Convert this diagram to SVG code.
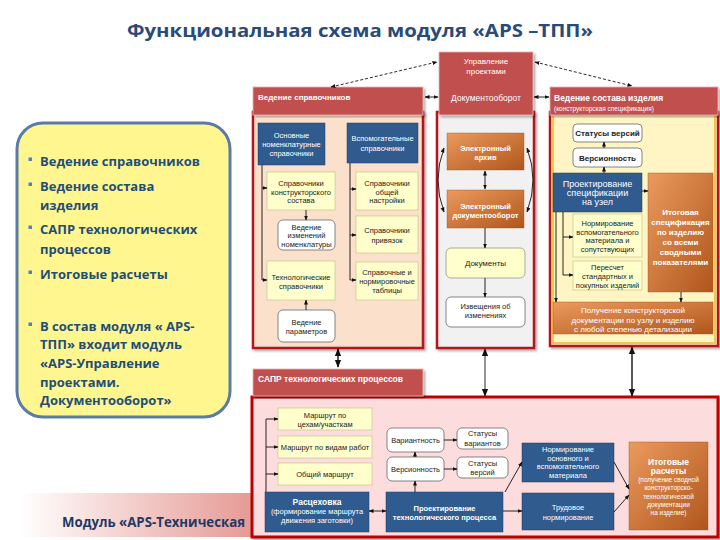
<svg xmlns="http://www.w3.org/2000/svg" width="720" height="540" viewBox="0 0 720 540">
<style>
.t{font-family:"Liberation Sans",Arial,sans-serif;font-size:7.5px;fill:#222;text-anchor:middle}
.w{fill:#fff}
.b{font-weight:bold}
.hdr{fill:#c0504d;stroke:#e8b4b2;stroke-width:0.8}
.blue{fill:#2f5b8e;stroke:#1f3f66;stroke-width:0.5}
.yel{fill:#ffffcc;stroke:#c9c28a;stroke-width:0.7}
.wht{fill:#fff;stroke:#555;stroke-width:0.7}
.org{fill:url(#og);stroke:#a0521c;stroke-width:0.4}
.pan{stroke:#b3161b;stroke-width:2.5}
.c{fill:none;stroke:#111;stroke-width:0.9}
.big{fill:none;stroke:#111;stroke-width:1.4}
.cl{font-family:"Open Sans","Noto Sans",sans-serif;font-weight:bold;font-size:13px;fill:#1f4e79}
</style>
<defs>
<linearGradient id="og" x1="0" y1="0" x2="1" y2="1">
<stop offset="0" stop-color="#eb9a5e"/>
<stop offset="1" stop-color="#b0561c"/>
</linearGradient>
<linearGradient id="band" x1="0" y1="0" x2="1" y2="0">
<stop offset="0.08" stop-color="#ffffff"/>
<stop offset="1" stop-color="#e69a94"/>
</linearGradient>
<marker id="ah" viewBox="0 0 10 10" refX="9" refY="5" markerWidth="5" markerHeight="5" markerUnits="userSpaceOnUse" orient="auto-start-reverse">
<path d="M0,1 L10,5 L0,9 z" fill="#111"/>
</marker>
<marker id="ahb" viewBox="0 0 10 10" refX="9" refY="5" markerWidth="8" markerHeight="8" markerUnits="userSpaceOnUse" orient="auto-start-reverse">
<path d="M0,1 L10,5 L0,9 z" fill="#111"/>
</marker>
<filter id="sh" x="-5%" y="-5%" width="115%" height="115%">
<feDropShadow dx="2" dy="2" stdDeviation="1.2" flood-color="#000" flood-opacity="0.3"/>
</filter>
</defs>

<rect width="720" height="540" fill="#fff"/>

<g id="title">
<text x="360" y="37" text-anchor="middle" font-family="Open Sans, Noto Sans, sans-serif" font-weight="bold" font-size="18" fill="#2a4a7a" textLength="466" lengthAdjust="spacingAndGlyphs">Функциональная схема модуля «APS –ТПП»</text>
</g>

<g id="callout">
<rect x="17" y="123" width="213" height="294" rx="26" fill="#fff68f" stroke="#5a7aa8" stroke-width="3"/>
<g fill="#4f81bd">
<rect x="28.5" y="157.5" width="3.5" height="3.5"/>
<rect x="28.5" y="182.5" width="3.5" height="3.5"/>
<rect x="28.5" y="225.5" width="3.5" height="3.5"/>
<rect x="28.5" y="270.5" width="3.5" height="3.5"/>
<rect x="28.5" y="322.5" width="3.5" height="3.5"/>
</g>
<text class="cl" x="40" y="166">Ведение справочников</text>
<text class="cl" x="40" y="191">Ведение состава</text>
<text class="cl" x="40" y="210">изделия</text>
<text class="cl" x="40" y="234">САПР технологических</text>
<text class="cl" x="40" y="254">процессов</text>
<text class="cl" x="40" y="279">Итоговые расчеты</text>
<text class="cl" x="40" y="331">В состав модуля « APS-</text>
<text class="cl" x="40" y="349">ТПП» входит модуль</text>
<text class="cl" x="40" y="368">«APS-Управление</text>
<text class="cl" x="40" y="387">проектами.</text>
<text class="cl" x="40" y="405">Документооборот»</text>
</g>

<g id="band">
<rect x="0" y="493" width="252" height="44" fill="url(#band)"/>
<text x="245" y="527" text-anchor="end" font-family="Open Sans, Noto Sans, sans-serif" font-weight="bold" font-size="14" fill="#1f3864" textLength="183" lengthAdjust="spacingAndGlyphs">Модуль «APS-Техническая</text>
</g>

<!-- panels -->
<g id="panel-left">
<rect class="pan" x="253" y="112" width="170" height="236" fill="#fbe0cc" filter="url(#sh)"/>
<rect class="hdr" x="253" y="87" width="170" height="28" filter="url(#sh)"/>
<text class="t w b" x="258" y="100" style="text-anchor:start;font-size:8px">Ведение справочников</text>
</g>
<g id="panel-mid">
<rect class="pan" x="437" y="112" width="97" height="236" fill="#f1f1f1" filter="url(#sh)"/>
</g>
<g id="top-box">
<rect class="hdr" x="439" y="52" width="94" height="63" filter="url(#sh)"/>
<text class="t w" x="486" y="64" style="font-size:8px">Управление</text>
<text class="t w" x="486" y="74" style="font-size:8px">проектами</text>
<text class="t w" x="486" y="101" style="font-size:8.5px">Документооборот</text>
</g>
<g id="panel-right">
<rect class="pan" x="550" y="112" width="168" height="234" fill="#fff4c4" filter="url(#sh)"/>
<rect x="553" y="115" width="162" height="228" fill="none" stroke="#f2c84b" stroke-width="2"/>
<rect class="hdr" x="550" y="87" width="168" height="28" filter="url(#sh)"/>
<text class="t w b" x="554" y="101" style="text-anchor:start;font-size:8.5px">Ведение состава изделия</text>
<text class="t w" x="554" y="111" style="text-anchor:start;font-size:6.5px">(конструкторская спецификация)</text>
</g>
<g id="panel-bottom">
<rect x="252" y="397" width="466" height="140" fill="#fcdcdc" stroke="#c00000" stroke-width="3" filter="url(#sh)"/>
<rect class="hdr" x="253" y="369" width="170" height="27" filter="url(#sh)"/>
<text class="t w b" x="258" y="382" style="text-anchor:start;font-size:8.5px">САПР технологических процессов</text>
</g>

<!-- left panel nodes -->
<g id="n-osn"><rect class="blue" x="258" y="123" width="67" height="42"/>
<text class="t w" x="291.5" y="138">Основные</text><text class="t w" x="291.5" y="147">номенклатурные</text><text class="t w" x="291.5" y="156">справочники</text></g>
<g id="n-vsp"><rect class="blue" x="347" y="123" width="71" height="40"/>
<text class="t w" x="382.5" y="141">Вспомогательные</text><text class="t w" x="382.5" y="151">справочники</text></g>
<g id="n-konstr"><rect class="yel" x="267" y="172" width="68" height="38"/>
<text class="t" x="301" y="186">Справочники</text><text class="t" x="301" y="194.5">конструкторского</text><text class="t" x="301" y="203">состава</text></g>
<g id="n-obsh"><rect class="yel" x="356" y="172" width="62" height="38"/>
<text class="t" x="387" y="186">Справочники</text><text class="t" x="387" y="194.5">общей</text><text class="t" x="387" y="203">настройки</text></g>
<g id="n-izm"><rect class="wht" x="278" y="220" width="57" height="30" rx="5"/>
<text class="t" x="306.5" y="229.5">Ведение</text><text class="t" x="306.5" y="238">изменений</text><text class="t" x="306.5" y="246.5">номенклатуры</text></g>
<g id="n-priv"><rect class="yel" x="356" y="216" width="62" height="37"/>
<text class="t" x="387" y="233">Справочники</text><text class="t" x="387" y="243">привязок</text></g>
<g id="n-tehn"><rect class="yel" x="267" y="261" width="68" height="39"/>
<text class="t" x="301" y="280">Технологические</text><text class="t" x="301" y="289">справочники</text></g>
<g id="n-tabl"><rect class="yel" x="356" y="262" width="62" height="38"/>
<text class="t" x="387" y="275">Справочные и</text><text class="t" x="387" y="284">нормировочные</text><text class="t" x="387" y="293">таблицы</text></g>
<g id="n-param"><rect class="wht" x="278" y="310" width="57" height="32" rx="5"/>
<text class="t" x="306.5" y="325">Ведение</text><text class="t" x="306.5" y="334">параметров</text></g>

<!-- middle nodes -->
<g id="n-arh"><rect class="org" x="447" y="133" width="77" height="37"/>
<text class="t w b" x="485.5" y="151">Электронный</text><text class="t w b" x="485.5" y="160">архив</text></g>
<g id="n-edo"><rect class="org" x="447" y="190" width="77" height="38"/>
<text class="t w b" x="485.5" y="209">Электронный</text><text class="t w b" x="485.5" y="218">документооборот</text></g>
<g id="n-doc"><rect class="yel" x="446" y="248" width="79" height="30" rx="5" style="stroke:#888"/>
<text class="t" x="485.5" y="266" style="font-size:8px">Документы</text></g>
<g id="n-izv"><rect class="wht" x="446" y="297" width="79" height="30" rx="5"/>
<text class="t" x="485.5" y="309">Извещения об</text><text class="t" x="485.5" y="318">изменениях</text></g>

<!-- right nodes -->
<g id="n-stv"><rect class="wht" x="573" y="124" width="69" height="18" rx="4"/>
<text class="t b" x="607.5" y="136" style="font-size:8px">Статусы версий</text></g>
<g id="n-ver"><rect class="wht" x="573" y="148" width="69" height="19" rx="4"/>
<text class="t b" x="607.5" y="160.5" style="font-size:8px">Версионность</text></g>
<g id="n-proekt"><rect class="blue" x="553" y="173" width="89" height="39"/>
<text class="t w" x="597.5" y="187" style="font-size:9px">Проектирование</text><text class="t w" x="597.5" y="196" style="font-size:9px">спецификации</text><text class="t w" x="597.5" y="205" style="font-size:9px">на узел</text></g>
<g id="n-itogspec"><rect class="org" x="648" y="173" width="65" height="119"/>
<text class="t w b" x="680.5" y="215" style="font-size:8px">Итоговая</text><text class="t w b" x="680.5" y="225" style="font-size:8px">спецификация</text><text class="t w b" x="680.5" y="235" style="font-size:8px">по изделию</text><text class="t w b" x="680.5" y="245" style="font-size:8px">со всеми</text><text class="t w b" x="680.5" y="255" style="font-size:8px">сводными</text><text class="t w b" x="680.5" y="265" style="font-size:8px">показателями</text></g>
<g id="n-norm"><rect class="yel" x="573" y="214" width="69" height="43"/>
<text class="t" x="607.5" y="226">Нормирование</text><text class="t" x="607.5" y="234.5">вспомогательного</text><text class="t" x="607.5" y="243">материала и</text><text class="t" x="607.5" y="252">сопутствующих</text></g>
<g id="n-peresch"><rect class="yel" x="573" y="261" width="69" height="29"/>
<text class="t" x="607.5" y="270">Пересчет</text><text class="t" x="607.5" y="279">стандартных и</text><text class="t" x="607.5" y="288">покупных изделий</text></g>
<g id="n-poluch"><rect class="org" x="553" y="302" width="160" height="32"/>
<text class="t w" x="633" y="313" style="font-size:8px">Получение конструкторской</text><text class="t w" x="633" y="322.5" style="font-size:8px">документации по узлу и изделию</text><text class="t w" x="633" y="332" style="font-size:8px">с любой степенью детализации</text></g>

<!-- bottom nodes -->
<g id="n-m1"><rect class="yel" x="278" y="408" width="94" height="22"/>
<text class="t" x="325" y="418">Маршрут по</text><text class="t" x="325" y="427">цехам/участкам</text></g>
<g id="n-m2"><rect class="yel" x="278" y="436" width="94" height="22"/>
<text class="t" x="325" y="450">Маршрут по видам работ</text></g>
<g id="n-m3"><rect class="yel" x="278" y="463" width="94" height="22"/>
<text class="t" x="325" y="477">Общий маршрут</text></g>
<g id="n-rasc"><rect class="blue" x="265" y="492" width="104" height="40"/>
<text class="t w b" x="317" y="505" style="font-size:8.5px">Расцеховка</text><text class="t w" x="317" y="514">(формирование маршрута</text><text class="t w" x="317" y="523">движения заготовки)</text></g>
<g id="n-var"><rect class="wht" x="387" y="428" width="57" height="24" rx="5"/>
<text class="t" x="415.5" y="443">Вариантность</text></g>
<g id="n-ver2"><rect class="wht" x="387" y="457" width="57" height="24" rx="5"/>
<text class="t" x="415.5" y="472">Версионность</text></g>
<g id="n-stvar"><rect class="wht" x="457" y="428" width="51" height="21" rx="5"/>
<text class="t" x="482.5" y="436">Статусы</text><text class="t" x="482.5" y="446">вариантов</text></g>
<g id="n-stver"><rect class="wht" x="457" y="457" width="51" height="21" rx="5"/>
<text class="t" x="482.5" y="466">Статусы</text><text class="t" x="482.5" y="475">версий</text></g>
<g id="n-ptp"><rect class="blue" x="386" y="492" width="117" height="40"/>
<text class="t w b" x="444.5" y="511">Проектирование</text><text class="t w b" x="444.5" y="520">технологического процесса</text></g>
<g id="n-normm"><rect class="blue" x="522" y="443" width="92" height="39"/>
<text class="t w" x="568" y="452">Нормирование</text><text class="t w" x="568" y="460.5">основного и</text><text class="t w" x="568" y="469">вспомогательного</text><text class="t w" x="568" y="477.5">материала</text></g>
<g id="n-trud"><rect class="blue" x="522" y="493" width="92" height="37"/>
<text class="t w" x="568" y="510">Трудовое</text><text class="t w" x="568" y="520">нормирование</text></g>
<g id="n-itog"><rect class="org" x="629" y="442" width="79" height="88"/>
<text class="t w b" x="668.5" y="465" style="font-size:8.5px">Итоговые</text><text class="t w b" x="668.5" y="474" style="font-size:8.5px">расчеты</text><text class="t w" x="668.5" y="482" style="font-size:6.5px">(получение сводной</text><text class="t w" x="668.5" y="490" style="font-size:6.5px">конструкторско-</text><text class="t w" x="668.5" y="499" style="font-size:6.5px">технологической</text><text class="t w" x="668.5" y="507" style="font-size:6.5px">документации</text><text class="t w" x="668.5" y="515" style="font-size:6.5px">на изделие)</text></g>

<g id="connectors">
<path class="c" d="M331,87 L437,62" stroke-dasharray="3,2" marker-start="url(#ah)" marker-end="url(#ah)"/>
<path class="c" d="M535,62 L632,86" stroke-dasharray="3,2" marker-start="url(#ah)" marker-end="url(#ah)"/>
<path class="c" d="M425,97 H438" marker-start="url(#ah)" marker-end="url(#ah)"/>
<path class="c" d="M534,97 H549" marker-start="url(#ah)" marker-end="url(#ah)"/>

<path class="c" d="M262,165 V280"/>
<path class="c" d="M262,188 H267" marker-end="url(#ah)"/>
<path class="c" d="M262,280 H267" marker-end="url(#ah)"/>
<path class="c" d="M350,163 V280"/>
<path class="c" d="M350,189 H356" marker-end="url(#ah)"/>
<path class="c" d="M350,235 H356" marker-end="url(#ah)"/>
<path class="c" d="M350,280 H356" marker-end="url(#ah)"/>
<path class="c" d="M306,210 V220" marker-end="url(#ah)"/>
<path class="c" d="M306,310 V300" marker-end="url(#ah)"/>

<path class="c" d="M485,171 V189" marker-start="url(#ah)" marker-end="url(#ah)"/>
<path class="c" d="M444,148 Q432,180 444,212" marker-start="url(#ah)" marker-end="url(#ah)"/>
<path class="c" d="M527,148 Q539,180 527,212" marker-start="url(#ah)" marker-end="url(#ah)"/>
<path class="c" d="M485,228 V248" marker-end="url(#ah)"/>
<path class="c" d="M485,278 V297" marker-end="url(#ah)"/>

<path class="c" d="M604,148 V142" marker-end="url(#ah)"/>
<path class="c" d="M604,173 V167" marker-end="url(#ah)"/>
<path class="c" d="M642,191 H648" marker-end="url(#ah)"/>
<path class="c" d="M556,212 V302" marker-end="url(#ah)"/>
<path class="c" d="M563,212 V275"/>
<path class="c" d="M563,237 H573" marker-end="url(#ah)"/>
<path class="c" d="M563,275 H573" marker-end="url(#ah)"/>
<path class="c" d="M681,292 V302" marker-end="url(#ah)"/>

<path class="big" d="M338,349 V367" marker-start="url(#ahb)" marker-end="url(#ahb)"/>
<path class="c" d="M485,349 V396" marker-start="url(#ahb)" marker-end="url(#ahb)"/>
<path class="big" d="M632,347 V396" marker-start="url(#ahb)" marker-end="url(#ahb)"/>

<path class="c" d="M266,492 V419 H278" marker-end="url(#ah)"/>
<path class="c" d="M266,447 H278" marker-end="url(#ah)"/>
<path class="c" d="M266,474 H278" marker-end="url(#ah)"/>
<path class="c" d="M369,511 H386" marker-start="url(#ah)" marker-end="url(#ah)"/>
<path class="c" d="M415,492 V481" marker-end="url(#ah)"/>
<path class="c" d="M415,457 V452" marker-end="url(#ah)"/>
<path class="c" d="M444,440 H457" marker-end="url(#ah)"/>
<path class="c" d="M444,469 H457" marker-end="url(#ah)"/>
<path class="c" d="M503,511 H522" marker-end="url(#ah)"/>
<path class="c" d="M505,492 L522,462" marker-end="url(#ah)"/>
<path class="c" d="M614,462 L629,489" marker-end="url(#ah)"/>
<path class="c" d="M614,512 L629,495" marker-end="url(#ah)"/>
</g>
</svg>
